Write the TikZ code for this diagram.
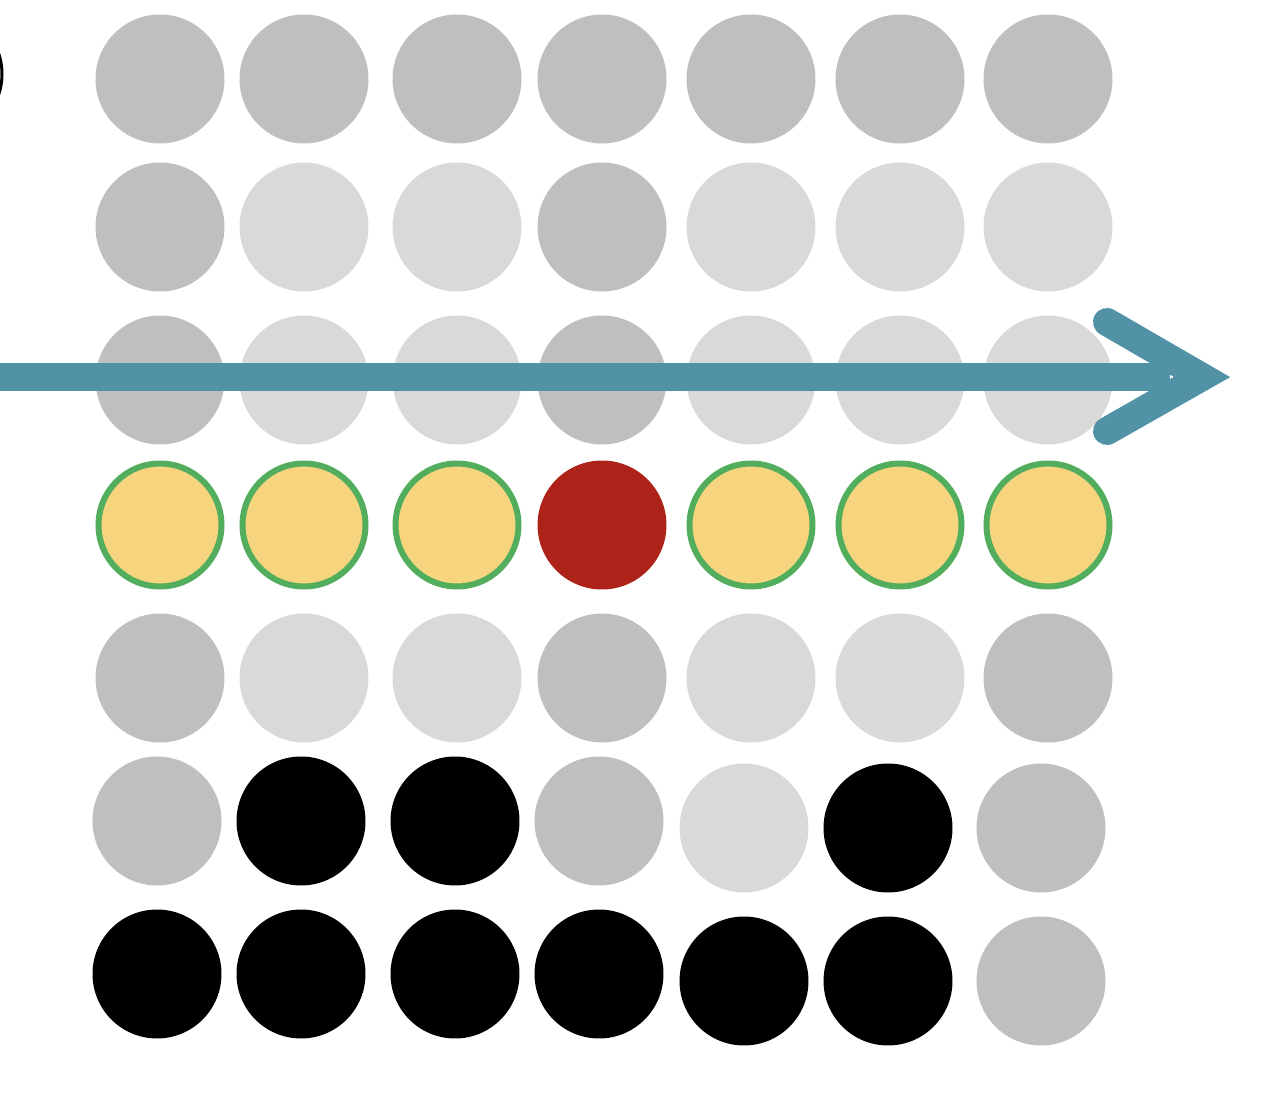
\documentclass[tikz,border=0pt]{standalone}
\usetikzlibrary{positioning}
\definecolor{dotdark}{RGB}{191,191,191}
\definecolor{dotlight}{RGB}{217,217,217}
\definecolor{dotyellow}{RGB}{247,213,127}
\definecolor{dotgreen}{RGB}{82,174,92}
\definecolor{dotred}{RGB}{174,35,25}
\definecolor{arrowteal}{RGB}{81,146,166}
\tikzset{dot/.style={circle,inner sep=0pt,minimum size=2.58cm},
  dk/.style={dot,fill=dotdark},
  lt/.style={dot,fill=dotlight},
  bk/.style={dot,fill=black},
  hit/.style={dot,fill=dotyellow,draw=dotgreen,line width=0.12cm,minimum size=2.46cm},
  miss/.style={dot,fill=dotred},
  arr/.style={arrowteal,line width=0.56cm}}

\begin{document}
\begin{tikzpicture}[x=0.02cm,y=-0.02cm]
\useasboundingbox (0,0) rectangle (1264,1114);
% cut-off ring at the left edge
\draw[line width=0.06cm] (-62,74) circle (64);
% upper five rows
\foreach \x/\st [count=\i] in {160/dk,304/dk,457/dk,602/dk,751/dk,900/dk,1048/dk}
  \node[\st] (a\i) at (\x,79) {};
\foreach \x/\st [count=\i] in {160/dk,304/lt,457/lt,602/dk,751/lt,900/lt,1048/lt}
  \node[\st] (b\i) at (\x,227) {};
\foreach \x/\st [count=\i] in {160/dk,304/lt,457/lt,602/dk,751/lt,900/lt,1048/lt}
  \node[\st] (c\i) at (\x,380) {};
\foreach \x/\st [count=\i] in {160/hit,304/hit,457/hit,602/miss,751/hit,900/hit,1048/hit}
  \node[\st] (d\i) at (\x,525) {};
\foreach \x/\st [count=\i] in {160/dk,304/lt,457/lt,602/dk,751/lt,900/lt,1048/dk}
  \node[\st] (e\i) at (\x,678) {};
% lower two rows
\foreach \x/\y/\st [count=\i] in {157/821/dk,301/821/bk,455/821/bk,599/821/dk,744/828/lt,888/828/bk,1041/828/dk}
  \node[\st] (f\i) at (\x,\y) {};
\foreach \x/\y/\st [count=\i] in {157/974/bk,301/974/bk,455/974/bk,599/974/bk,744/981/bk,888/981/bk,1041/981/dk}
  \node[\st] (g\i) at (\x,\y) {};
% scan arrow
\coordinate (scan-in) at (0,377);
\coordinate (scan-out) at (1170,377);
\coordinate (tip) at (1202,377);
\coordinate (tip-up) at (1107,322);
\coordinate (tip-down) at (1107,431);
\draw[arr] (scan-in) -- (scan-out);
\draw[arr,line cap=round,line join=miter] (tip-up) -- (tip) -- (tip-down);
\end{tikzpicture}
\end{document}
